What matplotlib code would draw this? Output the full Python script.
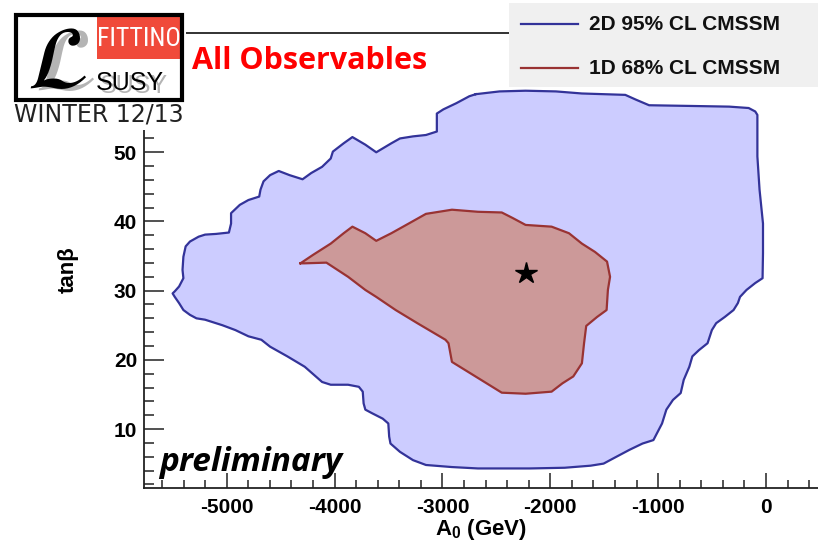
import matplotlib
matplotlib.use("Agg")
import matplotlib.pyplot as plt
from matplotlib import font_manager
from matplotlib.patches import Rectangle
from matplotlib.lines import Line2D
from matplotlib.ticker import FixedLocator, MultipleLocator

plt.rcParams["font.family"] = ["Liberation Sans", "DejaVu Sans"]
plt.rcParams["mathtext.fontset"] = "custom"
plt.rcParams["mathtext.rm"] = "Liberation Sans"
plt.rcParams["mathtext.bf"] = "Liberation Sans:bold"
plt.rcParams["axes.unicode_minus"] = False

# ---- data -------------------------------------------------------------
# 2D 95% CL region in the (A0, tan beta) plane
blue_a0 = [-2691, -2470, -2229, -1948, -1707, -1305, -1205, -1084, -703, -341,
           -161, -100, -80, -80, -60, -28, -28, -32, -100, -181,
           -241, -261, -301, -382, -462, -502, -542, -622, -683, -711,
           -763, -791, -863, -924, -964, -1004, -1044, -1145, -1265, -1386,
           -1506, -1626, -1867, -2189, -2671, -2912, -3153, -3273, -3394, -3482,
           -3494, -3502, -3554, -3655, -3715, -3731, -3739, -3775, -3875, -4036,
           -4116, -4277, -4438, -4598, -4679, -4799, -4920, -5040, -5201, -5281,
           -5341, -5402, -5442, -5482, -5502, -5482, -5442, -5402, -5410, -5402,
           -5381, -5341, -5261, -5201, -5100, -4980, -4960, -4960, -4879, -4799,
           -4699, -4687, -4659, -4598, -4518, -4418, -4297, -4217, -4116, -4036,
           -4016, -3916, -3835, -3715, -3614, -3474, -3394, -3273, -3153, -3052,
           -3052, -2992, -2871, -2751]
blue_tanb = [58.4, 58.8, 58.9, 58.8, 58.5, 58.3, 57.6, 56.8, 56.7, 56.6,
             56.4, 55.9, 55.4, 49.4, 44.6, 39.7, 35.4, 31.8, 31.1, 30.1,
             29.1, 28.2, 27.2, 26.2, 25.3, 24.3, 22.4, 21.4, 20.5, 19.0,
             17.1, 15.2, 14.2, 12.8, 10.8, 9.6, 8.4, 7.9, 7.0, 6.0,
             5.0, 4.7, 4.4, 4.3, 4.3, 4.5, 4.8, 5.5, 6.7, 7.9,
             8.9, 10.8, 11.5, 12.3, 12.8, 13.7, 15.4, 16.1, 16.4, 16.4,
             16.8, 19.0, 20.5, 21.9, 22.9, 23.4, 24.3, 25.0, 25.8, 26.0,
             26.5, 27.2, 28.2, 29.1, 29.6, 29.9, 30.6, 31.8, 33.0, 34.9,
             36.4, 37.1, 37.8, 38.1, 38.2, 38.4, 39.7, 41.2, 42.4, 43.1,
             43.6, 44.6, 45.8, 46.7, 47.3, 46.7, 46.1, 47.0, 47.9, 49.1,
             50.1, 51.3, 52.2, 51.1, 50.0, 51.3, 52.0, 52.3, 52.5, 53.0,
             55.6, 56.2, 57.1, 58.1]

# 1D 68% CL region
red_a0 = [-4317, -4197, -4036, -3916, -3835, -3715, -3614, -3474, -3313, -3153,
          -2912, -2671, -2450, -2349, -2229, -1988, -1827, -1707, -1586, -1474,
          -1446, -1466, -1478, -1566, -1667, -1687, -1707, -1787, -1888, -1988,
          -2229, -2450, -2590, -2751, -2912, -2944, -2972, -3233, -3434, -3614,
          -3715, -3875, -4076, -4277]
red_tanb = [33.95, 35.2, 36.8, 38.3, 39.25, 38.3, 37.2, 38.3, 39.7, 41.1,
            41.7, 41.4, 41.3, 40.5, 39.5, 39.25, 38.3, 36.8, 35.6, 34.2,
            32.0, 30.1, 27.2, 26.2, 24.9, 22.4, 19.5, 17.6, 16.6, 15.4,
            15.1, 15.25, 16.6, 18.15, 19.7, 22.4, 22.9, 25.3, 27.2, 29.1,
            30.1, 32.0, 34.05, 33.95]

# best fit point
best_a0 = [-2225]
best_tanb = [32.6]

x_ticks = [-5000, -4000, -3000, -2000, -1000, 0]
x_tick_labels = ["-5000", "-4000", "-3000", "-2000", "-1000", "0"]
y_ticks = [10, 20, 30, 40, 50, 60]
y_tick_labels = ["10", "20", "30", "40", "50", "60"]

legend_labels = ["2D 95% CL CMSSM", "1D 68% CL CMSSM"]

# ---- style ------------------------------------------------------------
BLUE_FILL, BLUE_EDGE = "#ccccff", "#333399"
RED_FILL, RED_EDGE = "#cc9999", "#993333"
LOGO_RED = "#f04a3a"
LEGEND_BG = "#f0f0f0"

W, H = 818, 541
fig = plt.figure(figsize=(W / 100, H / 100), dpi=100)
fig.patch.set_facecolor("white")

ax = fig.add_axes([143.7 / W, 52.7 / H, (W - 143.7) / W, 455.0 / H])


def closed(seq):
    return list(seq) + [seq[0]]


ax.fill(blue_a0, blue_tanb, color=BLUE_FILL, lw=0, zorder=1)
blue_line, = ax.plot(closed(blue_a0), closed(blue_tanb), color=BLUE_EDGE, lw=1.6, zorder=2)
ax.fill(red_a0, red_tanb, color=RED_FILL, lw=0, zorder=3)
red_line, = ax.plot(closed(red_a0), closed(red_tanb), color=RED_EDGE, lw=1.6, zorder=4)
ax.plot(best_a0, best_tanb, linestyle="none", marker="*", ms=16, color="black", zorder=5)

ax.set_xlim(-5770, 482)
ax.set_ylim(1.43, 67.2)

ax.xaxis.set_major_locator(FixedLocator(x_ticks))
ax.set_xticklabels(x_tick_labels, fontweight="bold", fontsize=15)
ax.xaxis.set_minor_locator(MultipleLocator(200))
ax.yaxis.set_major_locator(FixedLocator(y_ticks))
ax.set_yticklabels(y_tick_labels, fontweight="bold", fontsize=15)
ax.yaxis.set_minor_locator(MultipleLocator(2))

ax.tick_params(axis="x", which="major", direction="in", length=10.8, width=1.1, pad=7,
               color="#222222", top=False)
ax.tick_params(axis="x", which="minor", direction="in", length=5.5, width=1.1, top=False,
               color="#222222")
ax.tick_params(axis="y", which="major", direction="in", length=14.4, width=1.1, pad=4.8,
               color="#222222", right=False)
ax.tick_params(axis="y", which="minor", direction="in", length=7.2, width=1.1, right=False,
               color="#222222")

for side in ("left", "bottom", "top"):
    ax.spines[side].set_linewidth(1.3)
    ax.spines[side].set_color("#222222")
ax.spines["right"].set_visible(False)

ax.set_xlabel(r"A$_{\mathbf{0}}$ (GeV)", fontsize=16, fontweight="bold")
ax.xaxis.set_label_coords(0.5, -0.062)
ax.set_ylabel("tan\u03b2", fontsize=16, fontweight="bold", va="center")
ax.yaxis.set_label_coords(-0.112, 0.48)

# ---- overlay in figure pixels: logo, titles, legend -------------------
ov = fig.add_axes([0, 0, 1, 1], zorder=10)
ov.set_xlim(0, W)
ov.set_ylim(H, 0)
ov.axis("off")

available = {f.name for f in font_manager.fontManager.ttflist}
narrow = next((n for n in ("Liberation Sans Narrow", "Roboto Condensed", "Liberation Sans")
               if n in available), "DejaVu Sans")

ov.add_patch(Rectangle((0, 0), 186, 130, facecolor="white", edgecolor="none"))
ov.add_patch(Rectangle((97, 16), 84, 43, facecolor=LOGO_RED, edgecolor="none"))
ov.add_patch(Rectangle((16, 14.5), 166, 85.5, fill=False, edgecolor="black", lw=3))
ov.text(139, 38.5, "FITTINO", color="white", ha="center", va="center",
        fontsize=18.5, family=narrow)
ov.text(65, 67, r"$\mathcal{L}$", color="#b4b4b4", ha="center", va="center",
        fontsize=64, math_fontfamily="stix")
ov.text(57, 65.5, r"$\mathcal{L}$", color="black", ha="center", va="center",
        fontsize=64, math_fontfamily="stix")
ov.text(134, 86, "SUSY", color="#b4b4b4", ha="center", va="center", fontsize=18,
        family="Liberation Sans")
ov.text(130, 83, "SUSY", color="black", ha="center", va="center", fontsize=18,
        family="Liberation Sans")
ov.text(99, 115, "WINTER 12/13", color="#222222", ha="center", va="center",
        fontsize=17, family="DejaVu Sans")

ov.text(192, 69, "All Observables", color="red", fontsize=22, fontweight="bold",
        family="Open Sans", ha="left", va="baseline")
ov.text(159, 471, "preliminary", color="black", fontsize=24, fontweight="bold",
        style="italic", family="Open Sans", ha="left", va="baseline")

# legend
ov.add_patch(Rectangle((509, 3), W - 509 + 5, 84, facecolor=LEGEND_BG, edgecolor="none"))
for row_y, line, label in zip((24, 68), (blue_line, red_line), legend_labels):
    ov.add_line(Line2D([521, 578], [row_y, row_y], color=line.get_color(), lw=1.6))
    ov.text(589, row_y, label, fontsize=15, fontweight="bold", ha="left", va="center",
            color="#111111")

fig.savefig("out.png", dpi=100)
